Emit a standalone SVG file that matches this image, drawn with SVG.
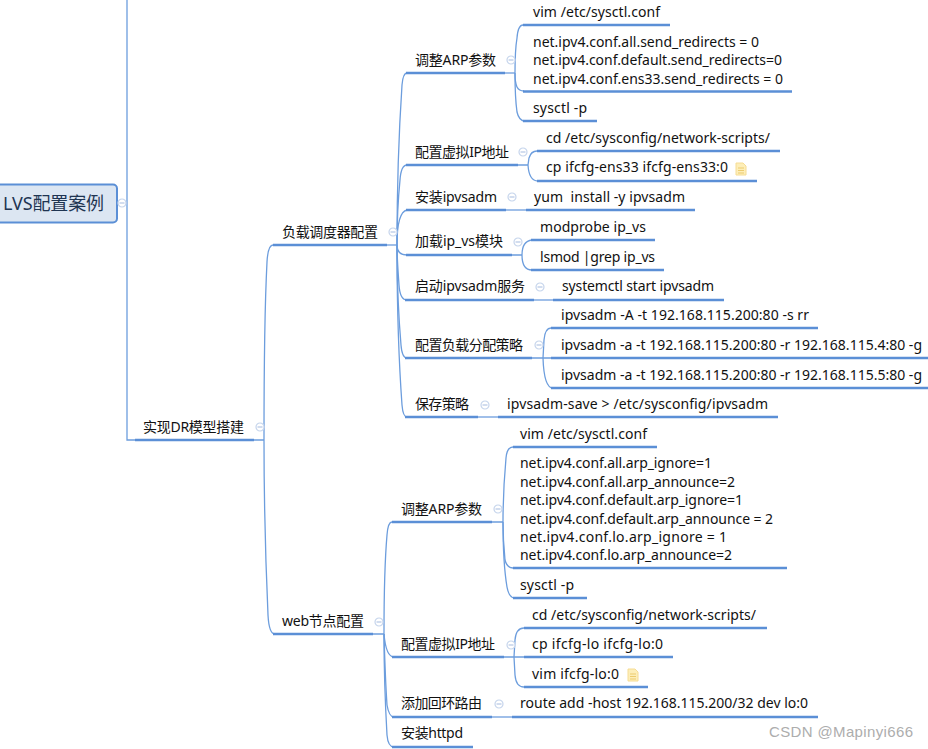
<svg xmlns="http://www.w3.org/2000/svg" width="928" height="749" viewBox="0 0 928 749">
<defs>
<g id="minus"><circle r="4" fill="#fff" stroke="#c6d5ec" stroke-width="1.2"/><path d="M-2.500 0H2.500" stroke="#b4c6e4" stroke-width="1.2"/></g>
<g id="note"><path d="M0 0H7L10 3V12H0Z" fill="#fdeeb8" stroke="#f6dc94"/><path d="M2 5H8M2 7.500H8M2 10H8" stroke="#eccb6f" stroke-width="1"/></g>
</defs>
<style>
text{font-family:"Noto Sans","Noto Sans CJK SC",sans-serif;font-size:14px;fill:#111;white-space:pre}
.u{stroke:#5b8fd6;stroke-width:2.700;fill:none}
.t{stroke:#6c9ddd;stroke-width:1.300;fill:none}
.wm{font-family:"Liberation Sans","Noto Sans",sans-serif;font-size:15px;fill:#adadad}
</style>
<rect width="928" height="749" fill="#fff"/>
<g id="connectors">
<path class="t" d="M127 0V440H135"/>
<path class="t" d="M254 440H264M273 245Q268 245 267 262C264 320 264 380 264 440C264 500 266 570 268 615Q269 634 275 634M373 634H384"/>
<path class="t" d="M387 245H397"/>
<path class="t" d="M407 73Q403 73 402 85C399 130 397 190 397 245"/>
<path class="t" d="M407 165Q401 165 400 180C398 200 397 225 397 245"/>
<path class="t" d="M407 210Q397 212 397 245"/>
<path class="t" d="M407 255Q397 255 397 245"/>
<path class="t" d="M407 300Q400 300 399 285C398 270 397 258 397 245"/>
<path class="t" d="M407 358Q402 358 401 345C398 310 397 275 397 245"/>
<path class="t" d="M407 417Q403 417 402 405C398 350 397 290 397 245"/>
<path class="t" d="M505 73H515"/>
<path class="t" d="M523 25Q518 25 517 38C515 50 515 62 515 73C515 82 516 85 517 87Q519 91 524 91"/>
<path class="t" d="M515 73C515 90 516 105 517 112Q519 121 525 121"/>
<path class="t" d="M518 165H528M537 151Q531 151 529 158L528 165Q529 181 538 181"/>
<path class="t" d="M506 210H527"/>
<path class="t" d="M512 255H522M532 240Q522 241 522 255Q522 270 532 270"/>
<path class="t" d="M534 300H553"/>
<path class="t" d="M532 358H543M551 328Q545 328 544 340L543 358Q544 388 553 388M543 358H551"/>
<path class="t" d="M478 417H498"/>
<path class="t" d="M392 522Q388 522 387 535C384 570 384 600 384 634C384 680 385 700 387 735Q388 747 394 747"/>
<path class="t" d="M384 634Q386 657 394 657"/>
<path class="t" d="M384 634C385 670 386 690 387 705Q389 717 394 717"/>
<path class="t" d="M492 522H503M513 447Q507 447 506 458C504 480 503 500 503 522C503 540 504 550 505 560Q507 568 513 568"/>
<path class="t" d="M503 522C503 550 505 575 507 587Q509 598 515 598"/>
<path class="t" d="M504 657H524M524 628Q516 628 515 640L514 657L515 675Q516 687 524 687"/>
<path class="t" d="M492 717H512"/>
</g>
<g id="root"><rect x="-3" y="184.500" width="120" height="38" rx="4" fill="#dce6f2" stroke="#5b8fd6" stroke-width="2"/><text x="3" y="210" style="font-size:18px;fill:#1f3552" textLength="101">LVS配置案例</text><use href="#minus" x="122" y="203"/></g>
<g id="n-dr"><text x="143" y="432" textLength="101">实现DR模型搭建</text><path class="u" d="M135 440H254"/><use href="#minus" x="260" y="427"/></g>
<g id="n-lb"><text x="282" y="237" textLength="96">负载调度器配置</text><path class="u" d="M273 245H387"/><use href="#minus" x="393" y="232"/></g>
<g id="n-web"><text x="282" y="626" textLength="82">web节点配置</text><path class="u" d="M273 634H373"/><use href="#minus" x="379" y="622"/></g>
<g id="n-arp1"><text x="415" y="65" textLength="81">调整ARP参数</text><path class="u" d="M406 73H505"/><use href="#minus" x="511" y="60"/></g>
<g id="n-vip1"><text x="415" y="157" textLength="94">配置虚拟IP地址</text><path class="u" d="M406 165H518"/><use href="#minus" x="523" y="152"/></g>
<g id="n-inst"><text x="415" y="202" textLength="82">安装ipvsadm</text><path class="u" d="M406 210H506"/><use href="#minus" x="512" y="197"/></g>
<g id="n-ipvs"><text x="415" y="246" textLength="88">加载ip_vs模块</text><path class="u" d="M406 255H512"/><use href="#minus" x="518" y="242"/></g>
<g id="n-start"><text x="415" y="291" textLength="110">启动ipvsadm服务</text><path class="u" d="M405 300H534"/><use href="#minus" x="540" y="287"/></g>
<g id="n-pol"><text x="415" y="350" textLength="108">配置负载分配策略</text><path class="u" d="M405 358H532"/><use href="#minus" x="539" y="345"/></g>
<g id="n-save"><text x="415" y="409" textLength="54">保存策略</text><path class="u" d="M405 417H478"/><use href="#minus" x="485" y="405"/></g>
<g id="l1"><text x="533" y="17" textLength="127">vim /etc/sysctl.conf</text><path class="u" d="M523 25H670"/></g>
<g id="l2"><text x="533" y="47" textLength="226">net.ipv4.conf.all.send_redirects = 0</text><text x="533" y="65" textLength="249">net.ipv4.conf.default.send_redirects=0</text><text x="533" y="84" textLength="250">net.ipv4.conf.ens33.send_redirects = 0</text><path class="u" d="M523 91.500H792"/></g>
<g id="l3"><text x="533" y="113" textLength="54">sysctl -p</text><path class="u" d="M523 121H597"/></g>
<g id="l4"><text x="546" y="143" textLength="224">cd /etc/sysconfig/network-scripts/</text><path class="u" d="M537 151H780"/></g>
<g id="l5"><text x="546" y="172" textLength="182">cp ifcfg-ens33 ifcfg-ens33:0</text><use href="#note" x="736" y="163"/><path class="u" d="M537 181H757"/></g>
<g id="l6"><text x="534" y="202" textLength="151">yum  install -y ipvsadm</text><path class="u" d="M526 210H695"/></g>
<g id="l7"><text x="540" y="232" textLength="106">modprobe ip_vs</text><path class="u" d="M531 240H655"/></g>
<g id="l8"><text x="540" y="262" textLength="115">lsmod |grep ip_vs</text><path class="u" d="M531 270H664"/></g>
<g id="l9"><text x="562" y="291" textLength="152">systemctl start ipvsadm</text><path class="u" d="M553 300H724"/></g>
<g id="l10"><text x="561" y="320" textLength="248">ipvsadm -A -t 192.168.115.200:80 -s rr</text><path class="u" d="M551 328H818"/></g>
<g id="l11"><text x="561" y="350" textLength="361">ipvsadm -a -t 192.168.115.200:80 -r 192.168.115.4:80 -g</text><path class="u" d="M551 358H928"/></g>
<g id="l12"><text x="561" y="380" textLength="361">ipvsadm -a -t 192.168.115.200:80 -r 192.168.115.5:80 -g</text><path class="u" d="M551 388H928"/></g>
<g id="l13"><text x="507" y="409" textLength="261">ipvsadm-save &gt; /etc/sysconfig/ipvsadm</text><path class="u" d="M498 417H778"/></g>
<g id="n-arp2"><text x="401" y="514" textLength="81">调整ARP参数</text><path class="u" d="M392 522H492"/><use href="#minus" x="498" y="509"/></g>
<g id="n-vip2"><text x="401" y="649" textLength="94">配置虚拟IP地址</text><path class="u" d="M392 657H504"/><use href="#minus" x="511" y="645"/></g>
<g id="n-route"><text x="401" y="708" textLength="81">添加回环路由</text><path class="u" d="M392 717H492"/><use href="#minus" x="499" y="704"/></g>
<g id="n-httpd"><text x="401" y="738" textLength="62">安装httpd</text><path class="u" d="M392 747H473"/></g>
<g id="w1"><text x="520" y="439" textLength="127">vim /etc/sysctl.conf</text><path class="u" d="M513 447H657"/></g>
<g id="w2"><text x="520" y="468" textLength="192">net.ipv4.conf.all.arp_ignore=1</text><text x="520" y="487" textLength="215">net.ipv4.conf.all.arp_announce=2</text><text x="520" y="505" textLength="223">net.ipv4.conf.default.arp_ignore=1</text><text x="520" y="524" textLength="253">net.ipv4.conf.default.arp_announce = 2</text><text x="520" y="542" textLength="207">net.ipv4.conf.lo.arp_ignore = 1</text><text x="520" y="560" textLength="212">net.ipv4.conf.lo.arp_announce=2</text><path class="u" d="M513 568H787"/></g>
<g id="w3"><text x="520" y="590" textLength="54">sysctl -p</text><path class="u" d="M513 598H587"/></g>
<g id="w4"><text x="532" y="620" textLength="224">cd /etc/sysconfig/network-scripts/</text><path class="u" d="M524 628H767"/></g>
<g id="w5"><text x="532" y="649" textLength="131">cp ifcfg-lo ifcfg-lo:0</text><path class="u" d="M524 657H673"/></g>
<g id="w6"><text x="532" y="679" textLength="87">vim ifcfg-lo:0</text><use href="#note" x="628" y="669"/><path class="u" d="M524 687H648"/></g>
<g id="w7"><text x="520" y="708" textLength="288">route add -host 192.168.115.200/32 dev lo:0</text><path class="u" d="M512 717H818"/></g>
<text class="wm" x="769" y="737" textLength="144">CSDN @Mapinyi666</text>
</svg>
